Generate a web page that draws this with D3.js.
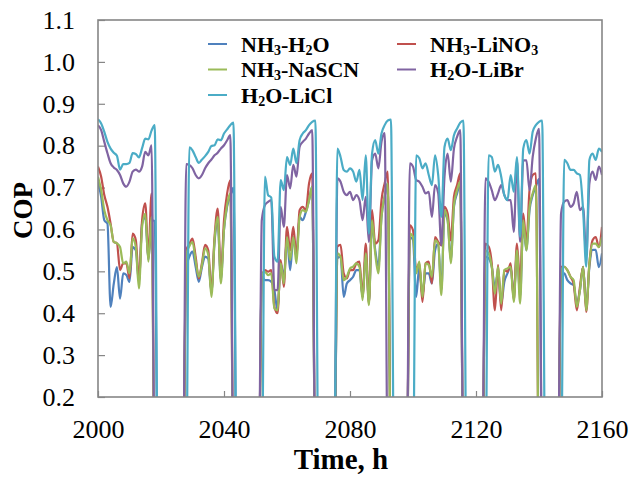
<!DOCTYPE html>
<html><head><meta charset="utf-8">
<script src="https://cdn.jsdelivr.net/npm/d3@7"></script>
<style>body{margin:0;background:#fff}svg{display:block}</style>
</head><body><svg id="c" width="630" height="477"></svg>
<script>
// Hourly COP values, hour 2000 .. 2160 (0 = system off, below axis)
const firstHour = 2000;
const nh3h2o = [
0.714,0.678,0.622,0.614,0.415,0.47,0.51,0.435,0.495,0.491,0.475,0.558,0.55,0.475,0.614,0.63,0.527,0.622,0.62,
0,0,0,0,0,0,0,0,0,
0.51,0.535,0.547,0.511,0.475,0.51,0.535,0.53,0.45,0.57,0.62,0.48,0.60,0.655,0.68,0.70,
0,0,0,0,0,0,0,0,
0.487,0.479,0.479,0.475,0.455,0.407,0.519,0.487,0.582,0.503,0.582,0.535,0.63,0.622,0.642,0.67,0.702,
0,0,0,0,0,0,0,
0.531,0.535,0.439,0.471,0.479,0.487,0.503,0.503,0.439,0.543,0.427,0.614,0.551,0.511,0.63,0.678,0.71,
0,0,0,0,0,0,
0.582,0.575,0.439,0.511,0.443,0.495,0.495,0.471,0.55,0.566,0.455,0.638,0.622,0.527,0.654,0.686,0.71,
0,0,0,0,0,0,0,
0.535,0.531,0.511,0.463,0.495,0.423,0.475,0.495,0.511,0.439,0.55,0.439,0.614,0.55,0.646,0.682,0.702,0.72,
0,0,0,0,0,0,
0.487,0.495,0.479,0.471,0.467,0.423,0.455,0.511,0.415,0.511,0.551,0.551,0.51,0.543];
const nh3lino3 = [
0.75,0.726,0.682,0.654,0.614,0.57,0.567,0.503,0.519,0.519,0.483,0.59,0.575,0.479,0.622,0.662,0.535,0.686,
0,0,0,0,0,0,0,0,0,0,
0.55,0.565,0.578,0.535,0.483,0.52,0.563,0.55,0.451,0.582,0.65,0.487,0.622,0.686,0.718,
0,0,0,0,0,0,0,0,0,
0.487,0.503,0.499,0.503,0.415,0.40,0.527,0.463,0.606,0.55,0.606,0.535,0.646,0.654,0.646,0.71,0.734,
0,0,0,0,0,0,0,
0.559,0.563,0.495,0.483,0.503,0.503,0.519,0.523,0.439,0.566,0.423,0.646,0.566,0.574,0.67,0.71,0.738,
0,0,0,0,0,0,
0.61,0.598,0.503,0.519,0.427,0.519,0.523,0.471,0.582,0.57,0.562,0.654,0.638,0.574,0.678,0.706,0.734,
0,0,0,0,0,0,0,
0.566,0.559,0.519,0.407,0.515,0.407,0.503,0.499,0.519,0.431,0.566,0.471,0.638,0.566,0.694,0.73,0.734,
0,0,0,0,0,0,0,
0.511,0.511,0.503,0.487,0.471,0.407,0.463,0.511,0.403,0.519,0.574,0.582,0.558,0.606];
const nh3nascn = [
0.726,0.694,0.646,0.622,0.61,0.57,0.567,0.558,0.519,0.523,0.495,0.579,0.558,0.459,0.606,0.638,0.523,0.63,
0,0,0,0,0,0,0,0,0,0,
0.54,0.56,0.57,0.525,0.487,0.515,0.555,0.54,0.439,0.575,0.63,0.471,0.60,0.66,0.686,
0,0,0,0,0,0,0,0,0,
0.49,0.499,0.491,0.495,0.411,0.407,0.519,0.471,0.582,0.527,0.582,0.519,0.63,0.646,0.642,0.67,0.702,
0,0,0,0,0,0,0,
0.543,0.535,0.479,0.487,0.507,0.511,0.519,0.511,0.431,0.543,0.419,0.622,0.543,0.495,0.63,0.678,0.71,
0,0,0,0,0,0,
0.59,0.582,0.495,0.523,0.439,0.519,0.515,0.487,0.574,0.566,0.443,0.646,0.622,0.519,0.658,0.694,0.714,
0,0,0,0,0,0,0,
0.55,0.543,0.511,0.447,0.511,0.423,0.503,0.507,0.511,0.427,0.55,0.423,0.622,0.55,0.654,0.686,0.706,
0,0,0,0,0,0,0,
0.503,0.511,0.503,0.487,0.479,0.415,0.455,0.511,0.407,0.519,0.566,0.566,0.558,0.582];
const h2olibr = [
0.849,0.837,0.809,0.782,0.758,0.748,0.742,0.73,0.71,0.702,0.714,0.738,0.743,0.738,0.75,0.785,0.777,0.801,
0,0,0,0,0,0,0,0,0,0,
0.756,0.754,0.746,0.73,0.722,0.73,0.746,0.758,0.767,0.777,0.783,0.793,0.801,0.813,0.825,
0,0,0,0,0,0,0,0,0,
0.622,0.658,0.666,0.67,0.455,0.455,0.654,0.606,0.73,0.698,0.754,0.726,0.797,0.809,0.817,0.829,0.837,
0,0,0,0,0,0,0,
0.722,0.714,0.69,0.682,0.69,0.67,0.682,0.67,0.622,0.678,0.57,0.765,0.781,0.746,0.809,0.83,
0,0,0,0,0,0,0,
0.758,0.75,0.718,0.714,0.702,0.686,0.69,0.63,0.706,0.686,0.562,0.726,0.781,0.714,0.793,0.821,0.837,
0,0,0,0,0,0,0,
0.722,0.714,0.694,0.67,0.686,0.706,0.682,0.67,0.67,0.594,0.765,0.57,0.765,0.765,0.694,0.773,0.817,0.84,
0,0,0,0,0,0,
0.638,0.666,0.67,0.654,0.662,0.69,0.646,0.654,0.535,0.71,0.738,0.718,0.75,0.73];
const h2olicl = [
0.863,0.853,0.833,0.809,0.793,0.783,0.776,0.743,0.756,0.756,0.759,0.782,0.78,0.772,0.794,0.817,0.815,0.836,0.849,
0,0,0,0,0,0,0,0,0,0,
0.796,0.789,0.773,0.759,0.767,0.775,0.785,0.799,0.801,0.815,0.813,0.829,0.839,0.849,0.855,
0,0,0,0,0,0,0,0,0,
0.726,0.682,0.676,0.535,0.523,0.718,0.694,0.773,0.754,0.793,0.758,0.813,0.829,0.837,0.849,0.857,0.86,
0,0,0,0,0,0,
0.793,0.773,0.742,0.738,0.746,0.738,0.714,0.742,0.67,0.777,0.59,0.781,0.813,0.781,0.829,0.849,0.86,0.862,
0,0,0,0,0,0,0,
0.777,0.77,0.746,0.758,0.73,0.706,0.777,0.73,0.63,0.797,0.817,0.789,0.825,0.841,0.855,0.86,
0,0,0,0,0,0,0,
0.777,0.773,0.738,0.754,0.726,0.682,0.67,0.73,0.69,0.773,0.582,0.793,0.813,0.781,0.833,0.849,0.857,0.86,
0,0,0,0,0,0,
0.766,0.758,0.742,0.742,0.734,0.73,0.646,0.511,0.766,0.781,0.766,0.793,0.785];

const seriesNames  = ["NH3-H2O","NH3-LiNO3","NH3-NaSCN","H2O-LiBr","H2O-LiCl"];
const seriesValues = [nh3h2o, nh3lino3, nh3nascn, h2olibr, h2olicl];
const seriesColors = ["#4F81BD","#C0504D","#9BBB59","#8064A2","#4BACC6"];
const xTickValues = [2000,2040,2080,2120,2160];
const yTickValues = [0.2,0.3,0.4,0.5,0.6,0.7,0.8,0.9,1.0,1.1];

const svg = d3.select("#c");
const L=98, R=602, T=20, B=397;
const x = d3.scaleLinear().domain([2000,2160]).range([L,R]);
const y = d3.scaleLinear().domain([0.2,1.1]).range([B,T]);
const serif = "'Liberation Serif','Times New Roman',serif";

svg.append("defs").append("clipPath").attr("id","plot")
  .append("rect").attr("x",L).attr("y",T).attr("width",R-L).attr("height",B-T);

const gridColor = "#868686";
// axes (ticks inward)
const xAxis = svg.append("g").attr("transform",`translate(0,${B})`)
  .call(d3.axisBottom(x).tickValues(xTickValues).tickFormat(d3.format("d")).tickSizeInner(-6).tickSizeOuter(0).tickPadding(23));
const yAxis = svg.append("g").attr("transform",`translate(${L},0)`)
  .call(d3.axisLeft(y).tickValues(yTickValues).tickFormat(d3.format(".1f")).tickSizeInner(-7).tickSizeOuter(0).tickPadding(23));
[xAxis,yAxis].forEach(g=>{
  g.select(".domain").remove();
  g.selectAll(".tick line").attr("stroke",gridColor).attr("stroke-width",1.2);
  g.selectAll(".tick text").attr("fill","#000").style("font-family",serif).style("font-size","26px");
});

// series lines
const line = d3.line()
  .x((d,i)=>x(firstHour+i))
  .y(d=>y(d))
  .curve(d3.curveMonotoneX);
const gLines = svg.append("g").attr("clip-path","url(#plot)");
seriesValues.forEach((vals,k)=>{
  gLines.append("path").datum(vals)
    .attr("d",line)
    .attr("fill","none")
    .attr("stroke",seriesColors[k])
    .attr("stroke-width",2.2)
    .attr("stroke-linejoin","round");
});

// frame
svg.append("rect").attr("x",L).attr("y",T).attr("width",R-L).attr("height",B-T)
  .attr("fill","none").attr("stroke",gridColor).attr("stroke-width",1.6);

// chemical formula text with subscripts (digits become subscripts)
function formula(sel, str){
  let prevSub = false;
  str.split(/(\d)/).filter(s=>s.length).forEach(part=>{
    if(/^\d$/.test(part)){
      sel.append("tspan").text(part).attr("font-size","14px").attr("dy",3);
      prevSub = true;
    } else {
      sel.append("tspan").text(part).attr("dy", prevSub ? -3 : 0);
      prevSub = false;
    }
  });
}

// legend
const legendPos = [[0,0],[1,0],[0,1],[1,1],[0,2]];
const legend = svg.append("g").style("font-family",serif)
  .style("font-weight","bold").style("font-size","22px");
seriesNames.forEach((name,k)=>{
  const [c,r] = legendPos[k];
  const lx = c===0 ? 208 : 397;
  const ly = 44 + r*25.5;
  legend.append("line").attr("x1",lx).attr("x2",lx+19).attr("y1",ly).attr("y2",ly)
    .attr("stroke",seriesColors[k]).attr("stroke-width",2);
  const t = legend.append("text").attr("x",lx+33).attr("y",ly+7.5).attr("fill","#000");
  formula(t,name);
});

// axis titles
svg.append("text").attr("x",341).attr("y",469).attr("text-anchor","middle")
  .style("font-family",serif).style("font-weight","bold").style("font-size","29px")
  .text("Time, h");
svg.append("text").attr("transform",`translate(32,${(T+B)/2+2}) rotate(-90)`).attr("text-anchor","middle")
  .style("font-family",serif).style("font-weight","bold").style("font-size","27px")
  .text("COP");
</script></body></html>
